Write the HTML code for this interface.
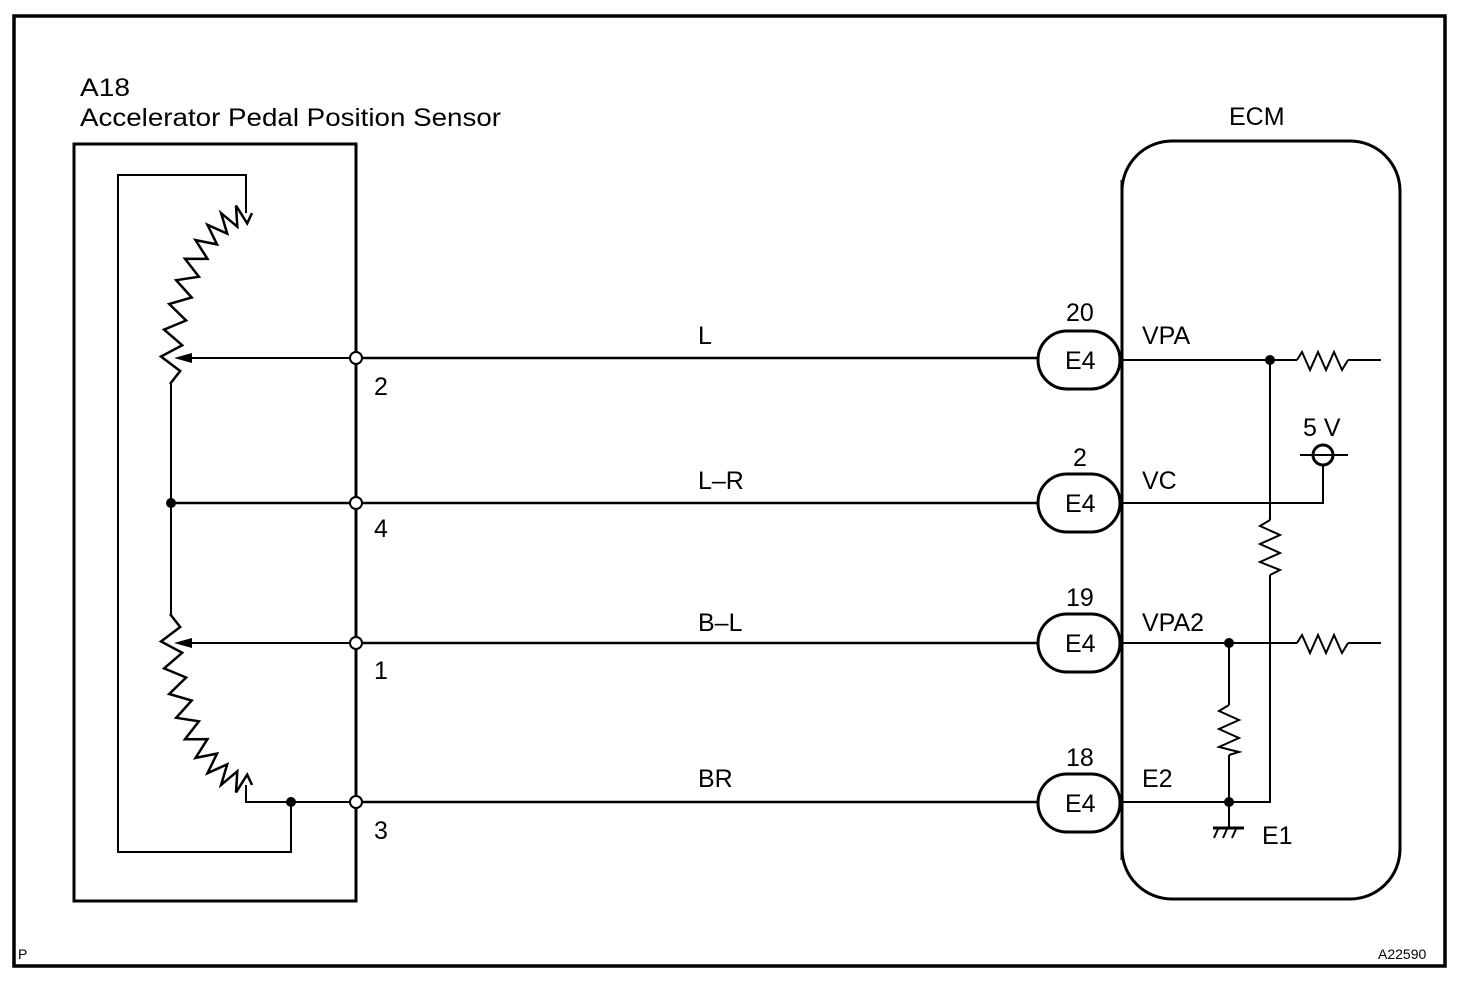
<!DOCTYPE html>
<html><head><meta charset="utf-8">
<style>
html,body{margin:0;padding:0;background:#fff;}
svg{display:block;}
text{font-family:"Liberation Sans",Arial,sans-serif;fill:#000;}
</style></head>
<body>
<svg id="s" width="1472" height="984" viewBox="0 0 1472 984" xmlns="http://www.w3.org/2000/svg">
<rect x="0" y="0" width="1472" height="984" fill="#fff"/>
<rect x="14" y="16" width="1431" height="950" fill="none" stroke="#000" stroke-width="3.5"/>
<text x="18" y="959" font-size="14">P</text>
<text x="1378" y="959" font-size="14">A22590</text>

<text x="80" y="96" font-size="25" textLength="50" lengthAdjust="spacingAndGlyphs">A18</text>
<text x="80" y="126" font-size="25" textLength="421" lengthAdjust="spacingAndGlyphs">Accelerator Pedal Position Sensor</text>
<rect x="74" y="144" width="282" height="757" fill="none" stroke="#000" stroke-width="3"/>
<g fill="none" stroke="#000" stroke-width="2">
  <polyline points="246,213 246,175 118,175 118,852 291,852 291,802"/>
  <polyline points="171,384 171,614"/>
  <polyline points="246,785 246,802 356,802"/>
  <line x1="185" y1="358" x2="356" y2="358"/>
  <line x1="185" y1="643" x2="356" y2="643"/>
</g>
<polygon points="174,358 192,353 192,363" fill="#000"/>
<polygon points="174,643 192,638 192,648" fill="#000"/>
<circle cx="171" cy="503" r="5" fill="#000"/>
<circle cx="291" cy="802" r="5" fill="#000"/>
<g id="zz" fill="none" stroke="#000" stroke-width="2.5"></g>

<g stroke="#000" stroke-width="2.5">
  <line x1="171" y1="503" x2="1040" y2="503"/>
  <line x1="356" y1="358" x2="1040" y2="358"/>
  <line x1="356" y1="643" x2="1040" y2="643"/>
  <line x1="356" y1="802" x2="1040" y2="802"/>
</g>
<g fill="#fff" stroke="#000" stroke-width="2">
  <circle cx="356" cy="358" r="6"/>
  <circle cx="356" cy="503" r="6"/>
  <circle cx="356" cy="643" r="6"/>
  <circle cx="356" cy="802" r="6"/>
</g>
<g font-size="25">
  <text x="374" y="395">2</text>
  <text x="374" y="537">4</text>
  <text x="374" y="679">1</text>
  <text x="374" y="839">3</text>
  <text x="698" y="344">L</text>
  <text x="698" y="489">L–R</text>
  <text x="698" y="631">B–L</text>
  <text x="698" y="787">BR</text>
</g>

<text x="1229" y="125" font-size="25">ECM</text>
<rect x="1122" y="141" width="278" height="758" rx="50" ry="50" fill="none" stroke="#000" stroke-width="3"/>
<g fill="#fff" stroke="#000" stroke-width="3">
  <rect x="1038" y="331" width="82" height="58" rx="29" ry="29"/>
  <rect x="1038" y="474" width="82" height="58" rx="29" ry="29"/>
  <rect x="1038" y="614" width="82" height="58" rx="29" ry="29"/>
  <rect x="1038" y="774" width="82" height="58" rx="29" ry="29"/>
</g>
<line x1="1122" y1="180" x2="1122" y2="860" stroke="#000" stroke-width="3"/>
<g font-size="25">
  <text x="1065" y="369">E4</text>
  <text x="1065" y="512">E4</text>
  <text x="1065" y="652">E4</text>
  <text x="1065" y="812">E4</text>
  <text x="1066" y="321">20</text>
  <text x="1073" y="466">2</text>
  <text x="1066" y="606">19</text>
  <text x="1066" y="766">18</text>
  <text x="1142" y="344">VPA</text>
  <text x="1142" y="489">VC</text>
  <text x="1142" y="631">VPA2</text>
  <text x="1142" y="787">E2</text>
  <text x="1262" y="844">E1</text>
  <text x="1303" y="436">5 V</text>
</g>
<g fill="none" stroke="#000" stroke-width="2">
  <polyline points="1122,360 1297,360"/>
  <polyline points="1348,360 1381,360"/>
  <polyline points="1270,360 1270,520"/>
  <polyline points="1270,575 1270,802 1122,802"/>
  <polyline points="1122,503 1323,503 1323,465"/>
  <circle cx="1323" cy="455" r="10" stroke-width="3"/>
  <line x1="1300" y1="455" x2="1348" y2="455"/>
  <polyline points="1122,643 1297,643"/>
  <polyline points="1348,643 1381,643"/>
  <polyline points="1229,643 1229,705"/>
  <polyline points="1229,755 1229,828"/>
  <line x1="1213" y1="828" x2="1244" y2="828" stroke-width="3"/>
  <line x1="1218" y1="829" x2="1214" y2="838"/>
  <line x1="1227" y1="829" x2="1223" y2="838"/>
  <line x1="1236" y1="829" x2="1232" y2="838"/>
  <polyline points="1297,360 1302,352 1310,370 1318,352 1326,370 1334,352 1342,370 1348,360"/>
  <polyline points="1297,643 1302,635 1310,653 1318,635 1326,653 1334,635 1342,653 1348,643"/>
  <polyline points="1270,520 1260,526 1280,535 1260,544 1280,553 1260,562 1280,570 1270,575"/>
  <polyline points="1229,705 1219,711 1239,720 1219,729 1239,738 1219,747 1239,752 1229,755"/>
</g>
<g fill="#000">
  <circle cx="1270" cy="360" r="5"/>
  <circle cx="1229" cy="643" r="5"/>
  <circle cx="1229" cy="802" r="5"/>
</g>
</svg>
<script>
(function(){
  var g=document.getElementById('zz');
  function arc(cx,cy,rx,ry,a0,a1,n,amp){
    var pts=[];
    for(var i=0;i<=n;i++){
      var t=a0+(a1-a0)*i/n;
      var x=cx+rx*Math.cos(t), y=cy+ry*Math.sin(t);
      var dx=-rx*Math.sin(t), dy=ry*Math.cos(t);
      var L=Math.sqrt(dx*dx+dy*dy); var nx=-dy/L, ny=dx/L;
      var o=(i==0||i==n)?0:((i%2)?amp:-amp);
      pts.push((x+nx*o).toFixed(1)+','+(y+ny*o).toFixed(1));
    }
    var p=document.createElementNS('http://www.w3.org/2000/svg','polyline');
    p.setAttribute('points',pts.join(' '));
    g.appendChild(p);
  }
  arc(252,384,82,171,-Math.PI/2,-Math.PI,20,10);
  arc(252,614,82,171,Math.PI,Math.PI/2,20,10);
})();
</script>
</body></html>
